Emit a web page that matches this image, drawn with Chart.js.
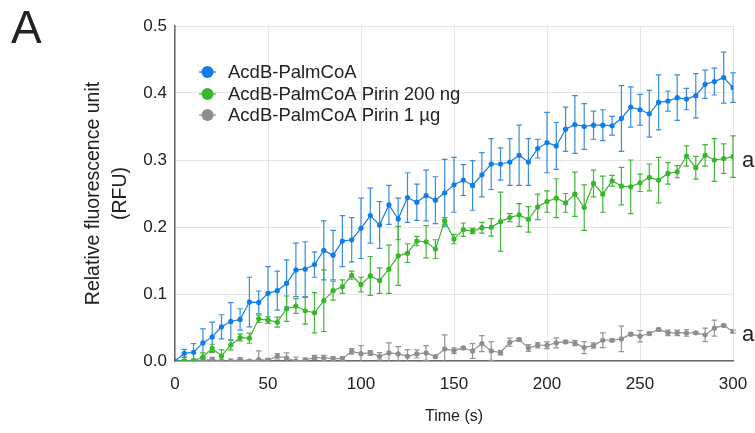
<!DOCTYPE html>
<html>
<head>
<meta charset="utf-8">
<script src="https://cdn.jsdelivr.net/npm/chart.js@4/dist/chart.umd.min.js"></script>
<style>
  html, body { margin: 0; padding: 0; background: #fff; }
</style>
</head>
<body>
<canvas id="myChart" width="755" height="433"></canvas>
<script>
// Time points (s)
var times = [0, 5, 10, 15, 20, 25, 30, 35, 40, 45, 50, 55, 60, 65, 70, 75, 80, 85, 90, 95,
  100, 105, 110, 115, 120, 125, 130, 135, 140, 145, 150, 155, 160, 165, 170, 175, 180, 185, 190, 195,
  200, 205, 210, 215, 220, 225, 230, 235, 240, 245, 250, 255, 260, 265, 270, 275, 280, 285, 290, 295, 300];

var seriesNames = ["AcdB-PalmCoA", "AcdB-PalmCoA Pirin 200 ng", "AcdB-PalmCoA Pirin 1 µg"];

// AcdB-PalmCoA
var palm = [0, 0.0115, 0.013, 0.027, 0.036, 0.051, 0.059, 0.062, 0.088, 0.0875, 0.101, 0.105, 0.116, 0.136, 0.137, 0.144, 0.165, 0.158, 0.179, 0.181,
  0.198, 0.217, 0.203, 0.233, 0.212, 0.244, 0.237, 0.247, 0.240, 0.251, 0.263, 0.270, 0.262, 0.278, 0.294, 0.294, 0.297, 0.307, 0.297, 0.317,
  0.326, 0.321, 0.346, 0.353, 0.350, 0.352, 0.352, 0.351, 0.362, 0.379, 0.375, 0.369, 0.386, 0.388, 0.393, 0.391, 0.396, 0.413, 0.417, 0.423, 0.408];
var palmErr = [0, 0.006, 0.013, 0.021, 0.022, 0.018, 0.028, 0.016, 0.037, 0.017, 0.040, 0.029, 0.035, 0.040, 0.041, 0.019, 0.044, 0.037, 0.038, 0.033,
  0.045, 0.041, 0.035, 0.029, 0.031, 0.037, 0.027, 0.038, 0.035, 0.050, 0.041, 0.023, 0.037, 0.033, 0.038, 0.024, 0.035, 0.045, 0.035, 0.014,
  0.045, 0.035, 0.033, 0.043, 0.034, 0.021, 0.023, 0.014, 0.049, 0.030, 0.023, 0.035, 0.041, 0.015, 0.034, 0.016, 0.033, 0.021, 0.020, 0.038, 0.022];

// AcdB-PalmCoA Pirin 200 ng
var pirin200 = [0, 0, 0, 0.006, 0.019, 0.0075, 0.024, 0.035, 0.034, 0.063, 0.061, 0.058, 0.078, 0.082, 0.075, 0.072, 0.090, 0.105, 0.111, 0.128,
  0.114, 0.127, 0.120, 0.137, 0.157, 0.161, 0.179, 0.178, 0.167, 0.209, 0.182, 0.196, 0.194, 0.199, 0.1995, 0.208, 0.214, 0.218, 0.2115, 0.230,
  0.238, 0.243, 0.236, 0.249, 0.229, 0.265, 0.249, 0.269, 0.261, 0.260, 0.266, 0.274, 0.270, 0.280, 0.2825, 0.306, 0.2885, 0.307, 0.300, 0.302, 0.305];
var pirin200Err = [0, 0.006, 0.003, 0.006, 0.006, 0.009, 0.0075, 0.005, 0.0075, 0.0055, 0.005, 0.0075, 0.019, 0.011, 0.020, 0.030, 0.046, 0.014, 0.010, 0.006,
  0.011, 0.029, 0.019, 0.036, 0.044, 0.014, 0.007, 0.024, 0.014, 0.005, 0.007, 0.010, 0.004, 0.008, 0.013, 0.044, 0.006, 0.017, 0.019, 0.019,
  0.016, 0.029, 0.014, 0.033, 0.034, 0.020, 0.027, 0.008, 0.028, 0.040, 0.013, 0.020, 0.034, 0.016, 0.009, 0.015, 0.017, 0.016, 0.032, 0.022, 0.031];

// AcdB-PalmCoA Pirin 1 µg
var pirin1 = [0, 0, 0, 0.001, 0.002, 0, 0, 0.002, 0, 0.002, 0.001, 0.007, 0.0045, 0, 0.0015, 0.0055, 0.0045, 0.0035, 0.0035, 0.0144,
  0.011, 0.012, 0.007, 0.012, 0.0105, 0.007, 0.0105, 0.012, 0.0065, 0.018, 0.0155, 0.0195, 0.015, 0.026, 0.015, 0.0125, 0.028, 0.032, 0.0195, 0.0235,
  0.0235, 0.027, 0.0285, 0.027, 0.020, 0.023, 0.031, 0.031, 0.033, 0.040, 0.037, 0.041, 0.047, 0.042, 0.042, 0.042, 0.042, 0.039, 0.049, 0.053, 0.044];
var pirin1Err = [0, 0.002, 0.002, 0.003, 0.0035, 0.003, 0.003, 0.003, 0.002, 0.013, 0.003, 0.004, 0.0075, 0.006, 0.003, 0.003, 0.004, 0.003, 0.003, 0.004,
  0.012, 0.0035, 0.0055, 0.015, 0.011, 0.010, 0.006, 0.011, 0.002, 0.021, 0.004, 0.002, 0.011, 0.012, 0.014, 0.0035, 0.006, 0.002, 0.005, 0.004,
  0.005, 0.0075, 0.002, 0.004, 0.009, 0.004, 0.011, 0.002, 0.019, 0.002, 0.0085, 0.002, 0.002, 0.004, 0.004, 0.005, 0.002, 0.010, 0.012, 0.002, 0.002];

var xTicks = [0, 50, 100, 150, 200, 250, 300];
var yTicks = [0, 0.1, 0.2, 0.3, 0.4, 0.5];

var font = "'Liberation Sans', Arial, Helvetica, sans-serif";

function points(values) {
  return values.map((v, i) => ({x: times[i], y: v}));
}

function makeSet(label, values, errs, color, errColor) {
  return {
    label: label,
    data: points(values),
    errors: errs,
    errColor: errColor,
    borderColor: color,
    backgroundColor: color,
    borderWidth: 1.2,
    pointRadius: 2.6,
    pointBorderWidth: 0,
    pointBackgroundColor: color,
    tension: 0
  };
}

// error bars drawn behind the lines, positions from the chart scales
var errorBars = {
  id: "errorBars",
  beforeDatasetsDraw: function(chart) {
    var ctx = chart.ctx;
    var xs = chart.scales.x, ys = chart.scales.y;
    var area = chart.chartArea;
    ctx.save();
    ctx.beginPath();
    ctx.rect(area.left, 0, area.right - area.left + 10, area.bottom);
    ctx.clip();
    chart.data.datasets.forEach(function(ds) {
      ctx.strokeStyle = ds.errColor;
      ctx.lineWidth = 1.2;
      ds.errors.forEach(function(e, i) {
        if (!e) return;
        var x = xs.getPixelForValue(ds.data[i].x);
        var top = ys.getPixelForValue(ds.data[i].y + e);
        var bot = ys.getPixelForValue(ds.data[i].y - e);
        ctx.beginPath();
        ctx.moveTo(x, top); ctx.lineTo(x, bot);
        ctx.moveTo(x - 2.8, top); ctx.lineTo(x + 2.8, top);
        ctx.moveTo(x - 2.8, bot); ctx.lineTo(x + 2.8, bot);
        ctx.stroke();
      });
    });
    ctx.restore();
  }
};

// legend, significance letters and panel letter
var extras = {
  id: "extras",
  afterDraw: function(chart) {
    var ctx = chart.ctx;
    var ys = chart.scales.y, xs = chart.scales.x;
    ctx.save();
    var rows = [72, 94, 115];
    chart.data.datasets.forEach(function(ds, i) {
      ctx.strokeStyle = ds.borderColor;
      ctx.lineWidth = 1.2;
      ctx.beginPath();
      ctx.moveTo(199, rows[i]); ctx.lineTo(216, rows[i]);
      ctx.stroke();
      ctx.fillStyle = ds.borderColor;
      ctx.beginPath();
      ctx.arc(207.5, rows[i], 6, 0, Math.PI * 2);
      ctx.fill();
      ctx.fillStyle = "#222";
      ctx.font = "18.5px " + font;
      ctx.textAlign = "left";
      ctx.textBaseline = "middle";
      ctx.fillText(ds.label, 228, rows[i] + 1);
    });
    ctx.fillStyle = "#222";
    ctx.font = "22px " + font;
    ctx.textAlign = "left";
    ctx.textBaseline = "middle";
    var xEnd = xs.getPixelForValue(times[times.length - 1]);
    ctx.fillText("a", xEnd + 9, ys.getPixelForValue(pirin200[pirin200.length - 1]) + 4);
    ctx.fillText("a", xEnd + 9, ys.getPixelForValue(pirin1[pirin1.length - 1]) + 3);
    ctx.font = "46px " + font;
    ctx.textBaseline = "alphabetic";
    ctx.fillText("A", 11, 43);
    ctx.restore();
  }
};

var graph = document.getElementById("myChart").getContext("2d");

new Chart(graph, {
  type: "line",
  data: {
    datasets: [
      makeSet(seriesNames[0], palm, palmErr, "#0f7ee8", "#3b8ddb"),
      makeSet(seriesNames[1], pirin200, pirin200Err, "#35b82a", "#44b53a"),
      makeSet(seriesNames[2], pirin1, pirin1Err, "#8e8e8e", "#969696")
    ]
  },
  options: {
    responsive: false,
    animation: false,
    layout: { padding: { left: 70, right: 22, top: 26, bottom: 4 } },
    plugins: {
      legend: { display: false },
      tooltip: { enabled: false }
    },
    scales: {
      x: {
        type: "linear",
        min: 0,
        max: 300,
        afterBuildTicks: function(scale) {
          scale.ticks = xTicks.map(v => ({value: v}));
        },
        afterFit: function(scale) {
          scale.height = 433 - 361 - 4;
          scale.paddingLeft = 0;
          scale.paddingRight = 0;
        },
        grid: { color: "#e4e4e4", lineWidth: 1, drawTicks: false },
        border: { color: "#6b6b6b", width: 1.5 },
        ticks: { color: "#222", padding: 13, font: { family: font, size: 17 } },
        title: {
          display: true,
          text: "Time (s)",
          color: "#222",
          padding: { top: 0, bottom: 3 },
          font: { family: font, size: 16 }
        }
      },
      y: {
        min: 0,
        max: 0.5,
        afterBuildTicks: function(scale) {
          scale.ticks = yTicks.map(v => ({value: v}));
        },
        afterFit: function(scale) {
          scale.width = 175 - 70;
          scale.paddingTop = 0;
          scale.paddingBottom = 0;
        },
        grid: { color: "#e4e4e4", lineWidth: 1, drawTicks: false },
        border: { color: "#6b6b6b", width: 1.5 },
        ticks: {
          color: "#222",
          padding: 8,
          font: { family: font, size: 17 },
          callback: function(v) { return v.toFixed(1); }
        },
        title: {
          display: true,
          text: ["Relative fluorescence unit", "(RFU)"],
          color: "#222",
          padding: { top: 10, bottom: 0 },
          font: { family: font, size: 19.5, lineHeight: 1.4 }
        }
      }
    }
  },
  plugins: [errorBars, extras]
});
</script>
</body>
</html>
